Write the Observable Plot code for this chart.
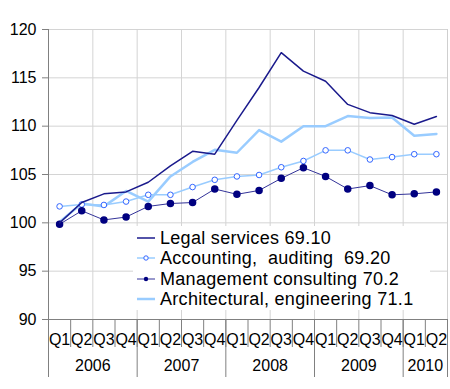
<!DOCTYPE html>
<html>
<head>
<meta charset="utf-8">
<script src="https://cdn.jsdelivr.net/npm/d3@7"></script>
<script src="https://cdn.jsdelivr.net/npm/@observablehq/plot@0.6"></script>
<style>
  html, body { margin: 0; padding: 0; background: #fff; }
  #wrap { position: relative; width: 450px; height: 389px; font-family: "Liberation Sans", Arial, sans-serif; }
  #legend { position: absolute; left: 133px; top: 226px; width: 297px; height: 84px; background: #fff; }
  .item { position: absolute; left: 0; height: 20px; display: flex; align-items: center; font-size: 18px; letter-spacing: 0.3px; color: #000; white-space: pre; line-height: 20px; }
  .item svg { margin-left: 3px; margin-right: 4px; flex: none; }
</style>
</head>
<body>
<div id="wrap"></div>
<script>
const quarters = ["Q1","Q2","Q3","Q4","Q1","Q2","Q3","Q4","Q1","Q2","Q3","Q4","Q1","Q2","Q3","Q4","Q1","Q2"];
const years = ["2006","2007","2008","2009","2010"];
const quartersPerYear = [4, 4, 4, 4, 2];
const seriesNames = ["Legal services 69.10", "Accounting,  auditing  69.20", "Management consulting 70.2", "Architectural, engineering 71.1"];
const legal = [100.0, 102.1, 103.0, 103.2, 104.2, 105.9, 107.4, 107.1, 110.6, 114.0, 117.6, 115.7, 114.65, 112.25, 111.4, 111.1, 110.2, 111.0];
const accounting = [101.7, 101.9, 101.85, 102.2, 102.9, 102.9, 103.7, 104.45, 104.8, 104.95, 105.75, 106.4, 107.5, 107.5, 106.55, 106.8, 107.1, 107.1];
const management = [99.85, 101.25, 100.3, 100.6, 101.7, 102.0, 102.1, 103.5, 102.95, 103.35, 104.6, 105.7, 104.8, 103.5, 103.85, 102.9, 103.0, 103.2];
const architectural = [100.1, 102.0, 101.7, 103.3, 102.2, 104.8, 106.3, 107.55, 107.25, 109.6, 108.4, 110.0, 110.0, 111.05, 110.85, 110.9, 109.0, 109.2];
const yTicks = [90, 95, 100, 105, 110, 115, 120];

const pts = (arr) => arr.map((v, i) => ({x: i + 0.5, y: v}));
const n = quarters.length;
let acc = 0;
const yearStarts = [0];
const yearCenters = [];
quartersPerYear.forEach(q => { yearCenters.push(acc + q / 2); acc += q; yearStarts.push(acc); });

const font = "Liberation Sans, Arial, sans-serif";
const chart = Plot.plot({
  width: 450,
  height: 389,
  marginLeft: 48,
  marginRight: 3,
  marginTop: 29,
  marginBottom: 70,
  style: {fontFamily: font, fontSize: "16px", color: "#000", background: "#fff", overflow: "visible"},
  x: {type: "linear", domain: [0, n]},
  y: {domain: [90, 120]},
  marks: [
    Plot.gridY(yTicks, {stroke: "#d4d4d4", strokeOpacity: 1}),
    Plot.gridX(d3.range(0, n + 1, 2), {stroke: "#d4d4d4", strokeOpacity: 1}),
    Plot.axisY(yTicks, {tickSize: 6, tickPadding: 6, stroke: "#808080", fontSize: 16, label: null}),
    Plot.axisX(d3.range(0, n + 1), {tickSize: 28, tickFormat: () => "", stroke: "#808080", label: null}),
    Plot.axisX(yearStarts, {tickSize: 58, tickFormat: () => "", stroke: "#808080", label: null}),
    Plot.axisX(d3.range(n).map(i => i + 0.5), {tickSize: 0, tickPadding: 14, tickFormat: (d) => quarters[Math.floor(d)], fontSize: 16, label: null}),
    Plot.axisX(yearCenters, {tickSize: 0, tickPadding: 40, tickFormat: (d, i) => years[i], fontSize: 16, label: null}),
    Plot.ruleY([90], {stroke: "#808080"}),
    Plot.ruleX([0], {stroke: "#808080"}),
    Plot.ruleX([n], {stroke: "#cfcfcf"}),
    Plot.line(pts(architectural), {x: "x", y: "y", stroke: "#99ccff", strokeWidth: 2.5}),
    Plot.line(pts(accounting), {x: "x", y: "y", stroke: "#99ccff", strokeWidth: 1.5}),
    Plot.dot(pts(accounting), {x: "x", y: "y", r: 2.8, fill: "#fff", stroke: "#3366ff", strokeWidth: 1}),
    Plot.line(pts(management), {x: "x", y: "y", stroke: "#333399", strokeWidth: 1}),
    Plot.dot(pts(management), {x: "x", y: "y", r: 3, fill: "#000080", stroke: "#000080"}),
    Plot.line(pts(legal), {x: "x", y: "y", stroke: "#1a1a8c", strokeWidth: 1.5})
  ]
});
const wrap = document.getElementById("wrap");
wrap.appendChild(chart);

const legend = document.createElement("div");
legend.id = "legend";
const swatches = [
  `<line x1="1" x2="19" y1="5" y2="5" stroke="#1a1a8c" stroke-width="1.5"/>`,
  `<line x1="1" x2="19" y1="5" y2="5" stroke="#99ccff" stroke-width="1.5"/><circle cx="10" cy="5" r="2.2" fill="#fff" stroke="#3366ff"/>`,
  `<line x1="1" x2="19" y1="5" y2="5" stroke="#333399" stroke-width="1"/><circle cx="10" cy="5" r="2.2" fill="#000080"/>`,
  `<line x1="1" x2="19" y1="5" y2="5" stroke="#99ccff" stroke-width="2.5"/>`
];
seriesNames.forEach((name, i) => {
  const it = document.createElement("div");
  it.className = "item";
  it.style.top = (2 + i * 20.3) + "px";
  it.innerHTML = `<svg width="20" height="10">${swatches[i]}</svg><span>${name}</span>`;
  legend.appendChild(it);
});
wrap.appendChild(legend);
</script>
</body>
</html>
